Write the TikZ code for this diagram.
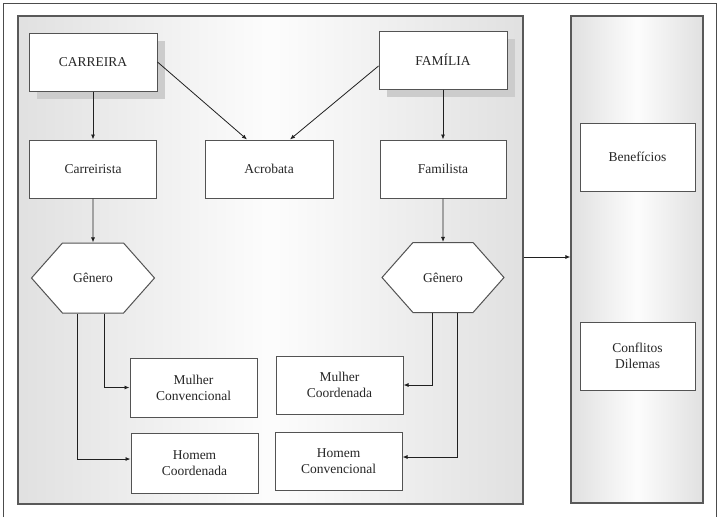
\documentclass[tikz,border=0pt]{standalone}
\usepackage{fontspec}
\setmainfont{Liberation Serif}
\usetikzlibrary{shapes.symbols,shadows,arrows.meta}

\begin{document}
\begin{tikzpicture}[x=1pt, y=-1pt,
        every node/.style={font=\fontsize{13.5}{16}\selectfont, text=black!85, align=center},
        panel/.style={draw=gray!70!black, line width=1.1pt, minimum width=#1, left color=gray!24, right color=gray!24, middle color=gray!2},
        caixa/.style={draw=gray!65!black, line width=1pt, fill=white, minimum width=127pt, minimum height=58pt},
        sombra/.style={drop shadow={shadow xshift=8pt, shadow yshift=-8pt, fill=gray!40, opacity=1}},
        genero/.style={draw=gray!65!black, line width=1pt, fill=white, shape=signal, signal to=west and east, signal pointer angle=97, minimum width=123pt, minimum height=70pt},
        seta/.style={draw=gray!25!black, line width=0.8pt, -{Latex[length=5pt,width=4pt]}}]
        \useasboundingbox (0, 0) rectangle (723, 517);
        \draw[gray!60!black, line width=1pt] (3, 517) -- (3, 3) -- (716, 3) -- (716, 517);

        \node[panel=505pt, minimum height=488pt] (esq) at (270.5, 260) {};
        \node[panel=132pt, minimum height=487pt] (dir) at (637, 259.5) {};

        \node[caixa, sombra, minimum width=128pt] (carreira) at (93, 62) {CARREIRA};
        \node[caixa, sombra, minimum width=128pt] (familia) at (443, 60) {FAM\'{I}LIA};
        \node[caixa] (carreirista) at (93, 169) {Carreirista};
        \node[caixa, minimum width=128pt] (acrobata) at (269, 169) {Acrobata};
        \node[caixa, minimum width=126pt] (familista) at (443, 169) {Familista};
        \node[genero] (gen1) at (93, 278) {G\^{e}nero};
        \node[genero, minimum width=122pt] (gen2) at (443, 277.5) {G\^{e}nero};
        \node[caixa, minimum height=59pt] (mconv) at (193.5, 387.5) {Mulher\\Convencional};
        \node[caixa, minimum height=60pt] (hcoord) at (194.5, 463) {Homem\\Coordenada};
        \node[caixa] (mcoord) at (339.5, 385) {Mulher\\Coordenada};
        \node[caixa] (hconv) at (338.5, 461) {Homem\\Convencional};
        \node[caixa, minimum width=115pt, minimum height=68pt] (benef) at (637.5, 157) {Benef\'{i}cios};
        \node[caixa, minimum width=115pt, minimum height=68pt] (confl) at (637.5, 356) {Conflitos\\Dilemas};

        \draw[seta] (carreira) -- (carreirista);
        \draw[seta] (carreira.east) -- ([xshift=-22pt]acrobata.north);
        \draw[seta] ([yshift=-6pt]familia.west) -- ([xshift=21pt]acrobata.north);
        \draw[seta] (familia) -- (familista);

        \draw[seta] (carreirista) -- (gen1);
        \draw[seta] (familista) -- (gen2);

        \draw[seta] ([xshift=11pt]gen1.south) |- (mconv.west);
        \draw[seta] ([xshift=-16pt]gen1.south) |- ([yshift=4pt]hcoord.west);
        \draw[seta] ([xshift=-11pt]gen2.south) |- (mcoord.east);
        \draw[seta] ([xshift=14pt]gen2.south) |- ([yshift=4pt]hconv.east);

        \draw[seta] ([yshift=3pt]esq.east) -- ([yshift=3pt]esq.east -| dir.west);
    \end{tikzpicture}
\end{document}
